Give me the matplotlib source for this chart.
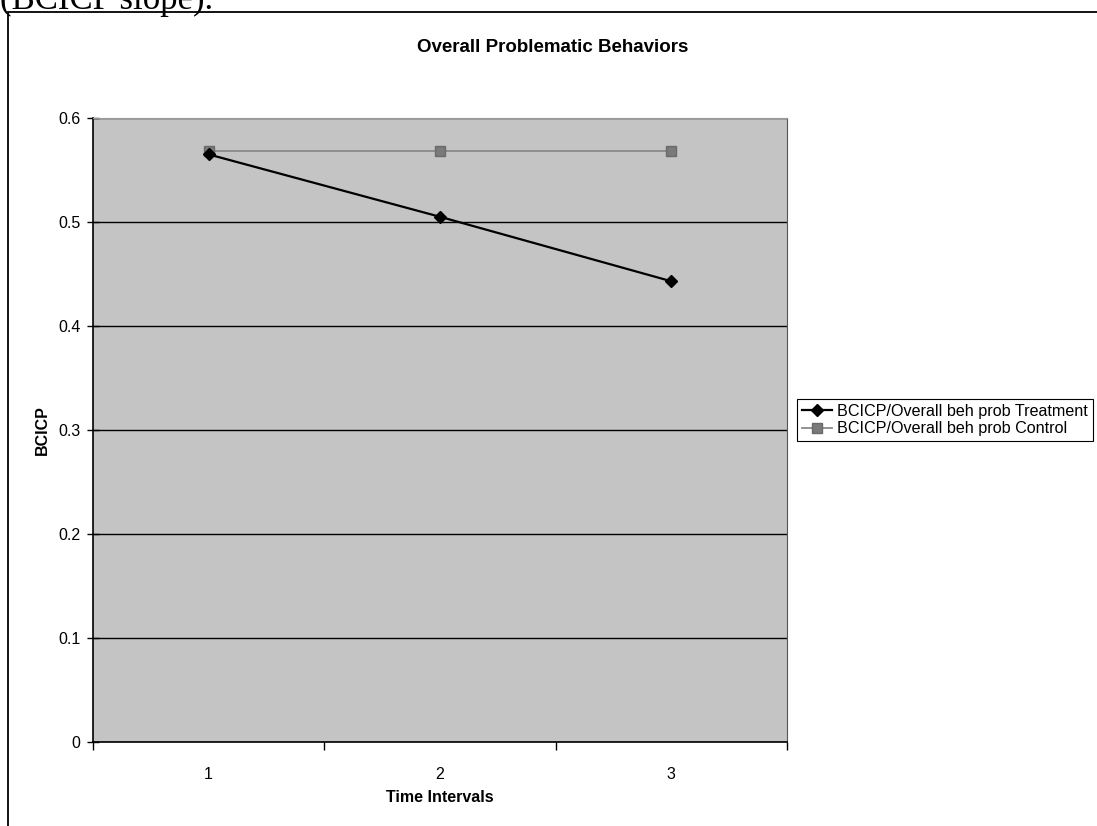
import matplotlib
matplotlib.use('Agg')
import matplotlib.pyplot as plt
from matplotlib.patches import Rectangle
from matplotlib.ticker import FixedLocator

plt.rcParams['font.family'] = ['Liberation Sans', 'DejaVu Sans']

intervals = [1, 2, 3]
treatment = [0.565, 0.505, 0.443]
control = [0.568, 0.568, 0.568]
treatment_label = 'BCICP/Overall beh prob Treatment'
control_label = 'BCICP/Overall beh prob Control'
yticks = [0, 0.1, 0.2, 0.3, 0.4, 0.5, 0.6]

W, H = 1097, 826
fig = plt.figure(figsize=(W / 100, H / 100), dpi=100)

# cut-off line of document text above the chart
fig.text(0.0, 1 - 9 / H, '(BCICP slope).', fontsize=25, va='baseline', ha='left',
         family=['Liberation Serif', 'DejaVu Serif'])

# chart frame (runs off the right and bottom of the scan)
fig.patches.append(Rectangle((8 / W, -0.1), 1.2, 1 - 12 / H + 0.1, transform=fig.transFigure,
                             fill=False, edgecolor='black', lw=1.3))

ax = fig.add_axes([93 / W, 1 - 742 / H, (787 - 93) / W, (742 - 118) / H])
ax.set_facecolor('#c4c4c4')

ax.plot(intervals, control, color='#8a8a8a', lw=1.3, marker='s', ms=7,
        mfc='#7a7a7a', mec='#6a6a6a', label=control_label, zorder=3)
ax.plot(intervals, treatment, color='black', lw=1.6, marker='D', ms=6,
        mfc='black', mec='black', label=treatment_label, zorder=4)

ax.set_xlim(0.5, 3.5)
ax.set_ylim(0, 0.6)
ax.set_yticks(yticks)
ax.set_yticklabels(['0', '0.1', '0.2', '0.3', '0.4', '0.5', '0.6'])
ax.yaxis.grid(True, color='black', lw=1.0)
ax.set_axisbelow(True)

ax.set_xticks(intervals)
ax.set_xticklabels([str(i) for i in intervals])
ax.xaxis.set_minor_locator(FixedLocator([0.5, 1.5, 2.5, 3.5]))
ax.tick_params(axis='x', which='major', length=0, pad=18, labelsize=11.5)
ax.tick_params(axis='x', which='minor', direction='out', length=6, width=1)
ax.tick_params(axis='y', direction='inout', length=8, width=1, pad=5, labelsize=11.5)

for side in ['left', 'bottom']:
    ax.spines[side].set_color('black')
    ax.spines[side].set_linewidth(1.2)
ax.spines['top'].set_color('#9a9a9a')
ax.spines['right'].set_color('#555555')

# title is centred on the whole chart frame, not the plot area
fig.text(553 / W, 1 - 48 / H, 'Overall Problematic Behaviors', fontsize=13.5,
         fontweight='bold', ha='center', va='center')
ax.set_xlabel('Time Intervals', fontsize=11.5, fontweight='bold', va='center')
ax.set_ylabel('BCICP', fontsize=11.5, fontweight='bold', va='center')
ax.xaxis.set_label_coords(0.5, -(797 - 742) / 624)
ax.yaxis.set_label_coords(-(93 - 42) / 694, 0.5)

handles, labels = ax.get_legend_handles_labels()
leg = fig.legend(handles[::-1], labels[::-1], loc='upper left',
                 bbox_to_anchor=(797 / W, 1 - 399 / H), fontsize=11.6,
                 frameon=True, fancybox=False, shadow=False, framealpha=1,
                 edgecolor='black', borderpad=0.3, labelspacing=0.15,
                 handlelength=1.9, handletextpad=0.3, borderaxespad=0)
leg.get_frame().set_linewidth(0.8)

fig.savefig('out.png', dpi=100)
